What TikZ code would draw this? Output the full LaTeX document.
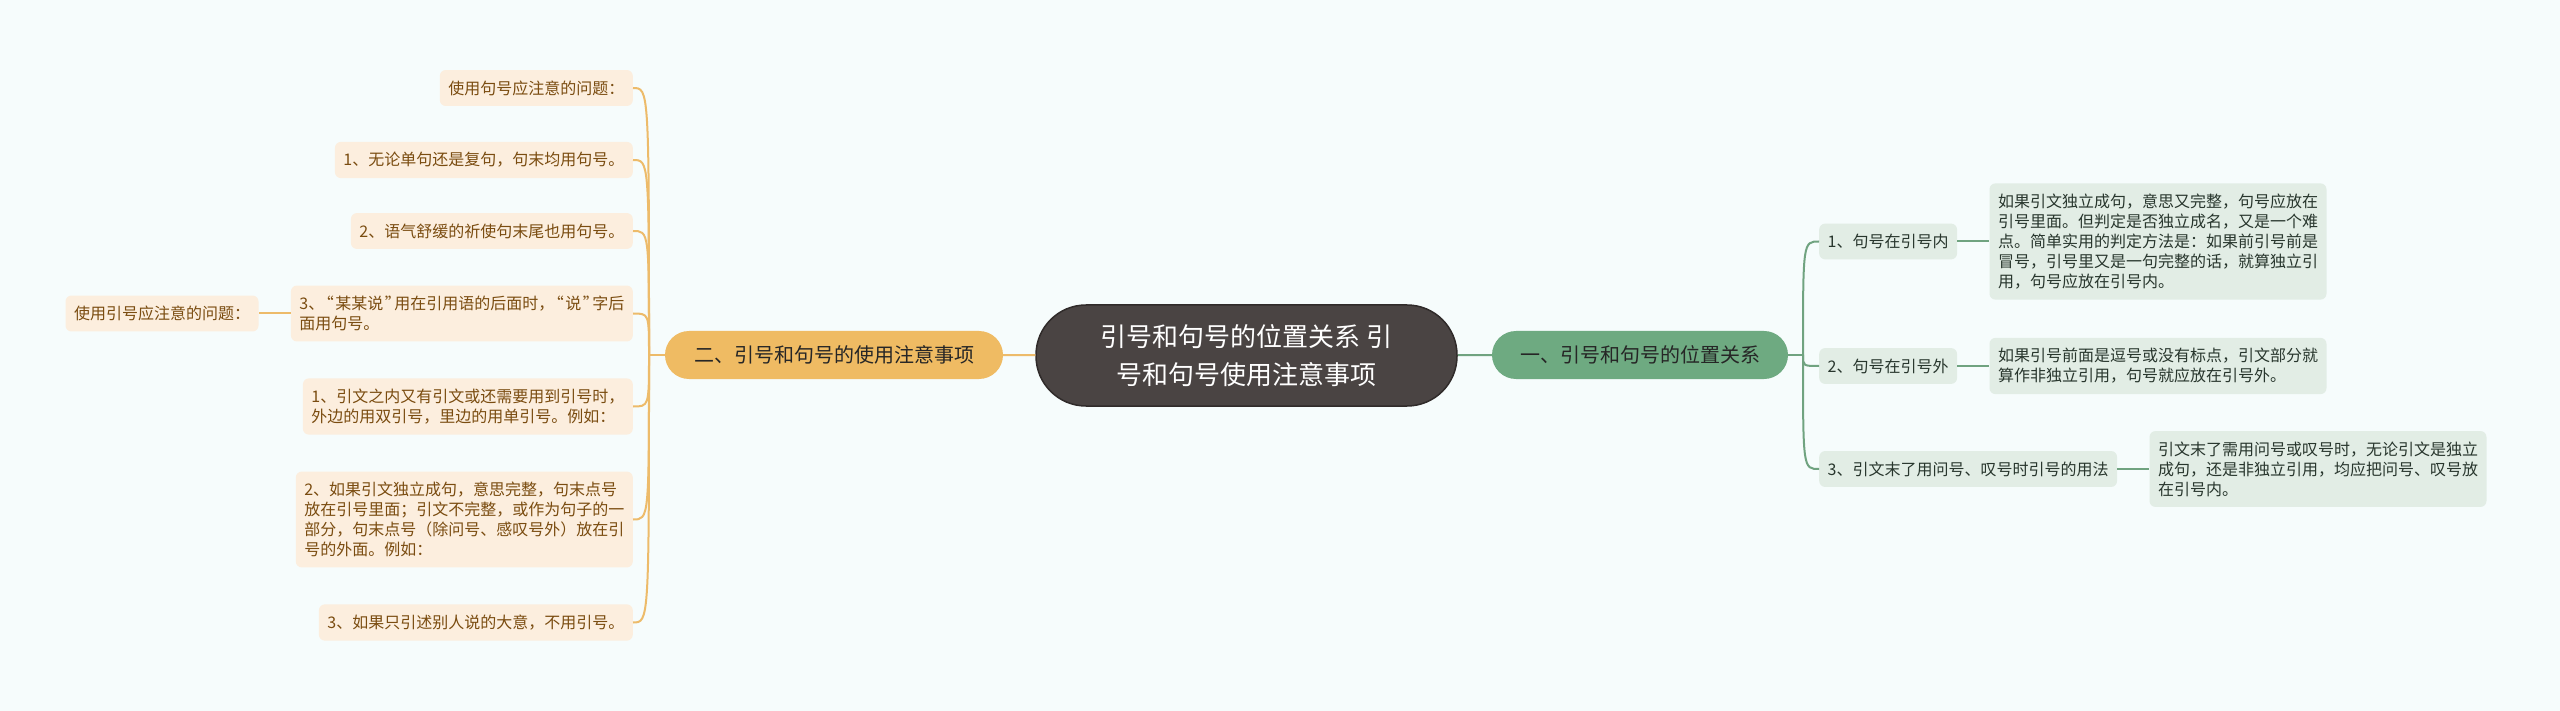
\documentclass[tikz,border=0pt]{standalone}
\usepackage{fontspec}
\newfontfamily\cjk{Noto Sans CJK SC}
\newcommand{\hq}[1]{{\kern1.5pt\addfontfeatures{RawFeature=+halt}#1\kern1.5pt}}
\usetikzlibrary{positioning}
\definecolor{bgcol}{RGB}{246,252,252}
\definecolor{rootcol}{RGB}{74,68,67}
\definecolor{rootline}{RGB}{48,43,42}
\definecolor{orangecol}{RGB}{239,187,99}
\definecolor{greencol}{RGB}{110,170,129}
\definecolor{olinecol}{RGB}{237,187,106}
\definecolor{glinecol}{RGB}{112,163,128}
\definecolor{oleafcol}{RGB}{252,238,222}
\definecolor{gleafcol}{RGB}{226,237,229}
\definecolor{otextcol}{RGB}{122,76,16}
\definecolor{gtextcol}{RGB}{40,54,45}
\tikzstyle{every node}=[font=\cjk]
\tikzstyle{root}=[rounded corners=50pt,
                  fill=rootcol,
                  draw=rootline,
                  line width=1.5pt,
                  text=white,
                  align=center,
                  minimum width=421pt,
                  minimum height=101pt,
                  font=\cjk\fontsize{26}{38}\selectfont]
\tikzstyle{obranch}=[rounded corners=24pt,
                     fill=orangecol,
                     text=black!85,
                     minimum height=48pt,
                     font=\cjk\fontsize{20}{24}\selectfont]
\tikzstyle{gbranch}=[rounded corners=24pt,
                     fill=greencol,
                     text=black!85,
                     minimum height=48pt,
                     font=\cjk\fontsize{20}{24}\selectfont]
\tikzstyle{oleaf}=[rounded corners=6pt,
                   fill=oleafcol,
                   text=otextcol,
                   align=left,
                   inner xsep=8.5pt,
                   inner ysep=10.5pt,
                   font=\cjk\fontsize{16}{20}\selectfont]
\tikzstyle{gleaf}=[rounded corners=6pt,
                   fill=gleafcol,
                   text=gtextcol,
                   align=left,
                   inner xsep=8.5pt,
                   inner ysep=10.5pt,
                   font=\cjk\fontsize{16}{20}\selectfont]
\tikzstyle{olink}=[draw=olinecol,line width=2pt]
\tikzstyle{glink}=[draw=glinecol,line width=2pt]

\begin{document}
\begin{tikzpicture}[x=1pt,y=-1pt,node distance=32pt]
\fill[bgcol] (0,0) rectangle (2560,711);
\node (R)   [root] at (1246.5,355.5) {引号和句号的位置关系 引\\号和句号使用注意事项};
\node (B_1) [gbranch,minimum width=296pt] at (1640,355) {一、引号和句号的位置关系};
\node (B_2) [obranch,minimum width=338pt] at (834,355) {二、引号和句号的使用注意事项};
\node (A_1) [oleaf,anchor=east] at (633,88) {使用句号应注意的问题：};
\node (A_2) [oleaf,anchor=east] at (633,160) {1、无论单句还是复句，句末均用句号。};
\node (A_3) [oleaf,anchor=east] at (633,231) {2、语气舒缓的祈使句末尾也用句号。};
\node (A_4) [oleaf,anchor=east] at (633,313.5) {3、\hq{“}某某说\hq{”}用在引用语的后面时，\hq{“}说\hq{”}字后\\面用句号。};
\node (A_5) [oleaf,anchor=east] at (633,406.5) {1、引文之内又有引文或还需要用到引号时，\\外边的用双引号，里边的用单引号。例如：};
\node (A_6) [oleaf,anchor=east] at (633,519.5) {2、如果引文独立成句，意思完整，句末点号\\放在引号里面；引文不完整，或作为句子的一\\部分，句末点号（除问号、感叹号外）放在引\\号的外面。例如：};
\node (A_7) [oleaf,anchor=east] at (633,622.5) {3、如果只引述别人说的大意，不用引号。};
\node (Q_1) [oleaf,left=of A_4] {使用引号应注意的问题：};
\node (M_1) [gleaf,anchor=west] at (1819,241.5) {1、句号在引号内};
\node (M_2) [gleaf,anchor=west] at (1819,366) {2、句号在引号外};
\node (M_3) [gleaf,anchor=west] at (1819,469) {3、引文末了用问号、叹号时引号的用法};
\node (N_1) [gleaf,right=of M_1] {如果引文独立成句，意思又完整，句号应放在\\引号里面。但判定是否独立成名，又是一个难\\点。简单实用的判定方法是：如果前引号前是\\冒号，引号里又是一句完整的话，就算独立引\\用，句号应放在引号内。};
\node (N_2) [gleaf,right=of M_2] {如果引号前面是逗号或没有标点，引文部分就\\算作非独立引用，句号就应放在引号外。};
\node (N_3) [gleaf,right=of M_3] {引文末了需用问号或叹号时，无论引文是独立\\成句，还是非独立引用，均应把问号、叹号放\\在引号内。};
\coordinate (O_1) at (649,355);
\coordinate (O_2) at (1803,355);
\path (R) edge[olink] (B_2);
\path (R) edge[glink] (B_1);
\path (B_2) edge[olink] (O_1);
\path (B_1) edge[glink] (O_2);
\foreach \n in {1,...,7}
  \draw[olink] (O_1) .. controls (O_1 |- A_\n) .. (A_\n.east);
\foreach \n in {1,2,3}
  \draw[glink] (O_2) .. controls (O_2 |- M_\n) .. (M_\n.west);
\path (A_4) edge[olink] (Q_1);
\path (M_1) edge[glink] (N_1);
\path (M_2) edge[glink] (N_2);
\path (M_3) edge[glink] (N_3);
\end{tikzpicture}
\end{document}
